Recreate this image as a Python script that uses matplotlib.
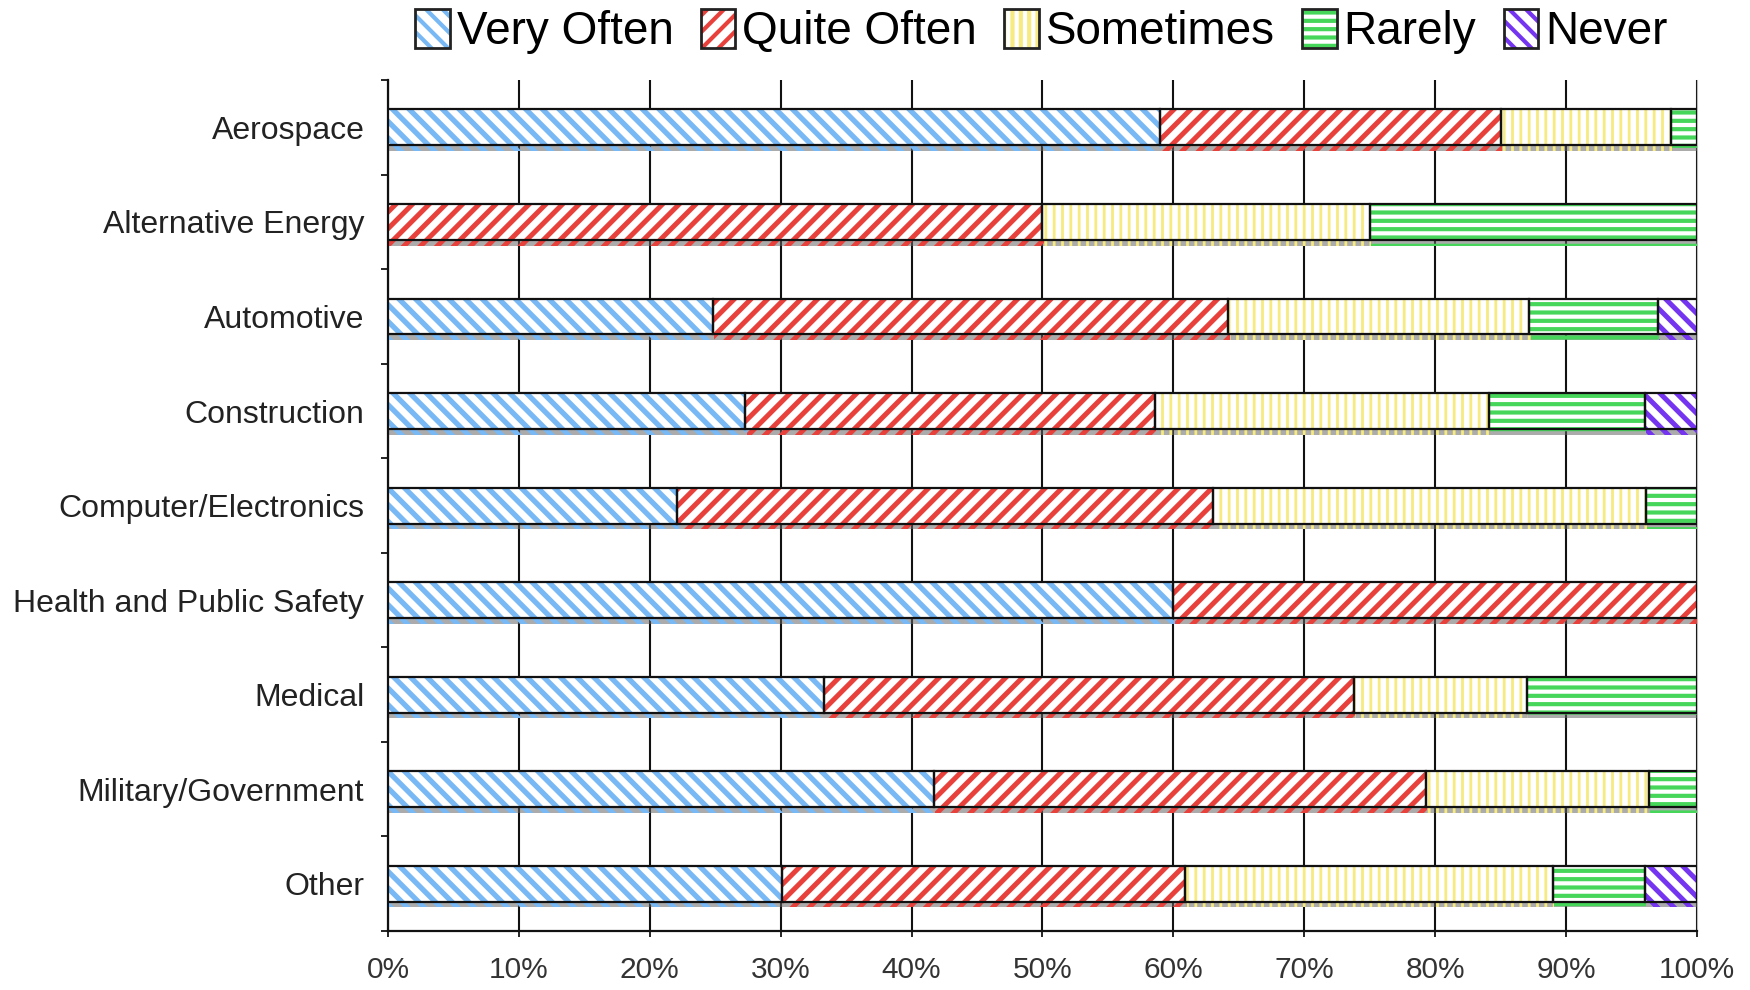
import numpy as np
import matplotlib
matplotlib.use('Agg')
import matplotlib.pyplot as plt
from matplotlib.patches import Patch
import matplotlib.patheffects as pe

# Data (percent of respondents per sector)
sectors = ['Aerospace', 'Alternative Energy', 'Automotive', 'Construction',
           'Computer/Electronics', 'Health and Public Safety', 'Medical',
           'Military/Government', 'Other']
responses = ['Very Often', 'Quite Often', 'Sometimes', 'Rarely', 'Never']
very_often = [59.0, 0.0, 24.8, 27.3, 22.1, 60.0, 33.3, 41.7, 30.1]
quite_often = [26.0, 50.0, 39.4, 31.3, 40.9, 40.0, 40.5, 37.6, 30.8]
sometimes = [13.0, 25.0, 23.0, 25.5, 33.1, 0.0, 13.2, 17.0, 28.1]
rarely = [2.0, 25.0, 9.8, 11.9, 3.9, 0.0, 13.0, 3.7, 7.0]
never = [0.0, 0.0, 3.0, 4.0, 0.0, 0.0, 0.0, 0.0, 4.0]

series = [very_often, quite_often, sometimes, rarely, never]
colors = ['#78b8f4', '#e8413c', '#f7ea80', '#45d65a', '#7434f0']
hatches = ['\\\\', '//', '||', '--', '\\\\']
hatch_lw = [3.8, 3.6, 2.0, 3.0, 3.6]

plt.rcParams['font.family'] = ['Liberation Sans', 'DejaVu Sans']
plt.rcParams['hatch.linewidth'] = 3.0

fig = plt.figure(figsize=(17.5, 9.9), dpi=100)
ax = fig.add_axes([0.2217, 0.0596, 0.7480, 0.8594])

y = np.arange(len(sectors))
bar_h = 0.38
left = np.zeros(len(sectors))
handles = []
for vals, col, hat, hlw, name in zip(series, colors, hatches, hatch_lw, responses):
    vals = np.array(vals)
    keep = vals > 0
    # hatched layer (hatch takes the edge colour)
    bars = ax.barh(y[keep], vals[keep], left=left[keep], height=bar_h, color='white',
                   edgecolor=col, hatch=hat, linewidth=0, zorder=3,
                   path_effects=[pe.SimplePatchShadow(offset=(1, -4), shadow_rgbFace='0.4', alpha=0.55),
                                 pe.Normal()])
    for b in bars:
        if hasattr(b, 'set_hatch_linewidth'):
            b.set_hatch_linewidth(hlw)
    # black outline
    ax.barh(y[keep], vals[keep], left=left[keep], height=bar_h, color='none',
            edgecolor='#111111', linewidth=1.6, zorder=4)
    left += vals
    hp = Patch(facecolor='white', edgecolor=col, hatch=hat, linewidth=0)
    if hasattr(hp, 'set_hatch_linewidth'):
        hp.set_hatch_linewidth(hlw)
    handles.append((hp, Patch(facecolor='none', edgecolor='#222222', linewidth=2.0)))

ax.set_xlim(0, 100)
ax.set_ylim(len(sectors) - 0.5, -0.5)
ax.set_xticks(np.arange(0, 101, 10))
ax.set_xticklabels(['%d%%' % v for v in range(0, 101, 10)], fontsize=21.5, color='#333333')
ax.set_yticks(y)
ax.set_yticklabels(sectors, fontsize=23, color='#222222')
ax.set_yticks(np.arange(len(sectors) + 1) - 0.5, minor=True)
ax.tick_params(axis='y', which='major', length=0, pad=17)
ax.tick_params(axis='y', which='minor', length=5, width=1.2, direction='out')
ax.tick_params(axis='x', length=4, width=1.2, pad=14)

ax.grid(axis='x', color='#111111', linewidth=1.5, zorder=0)
ax.set_axisbelow(True)
ax.spines['top'].set_visible(False)
ax.spines['right'].set_color('#bbbbbb')
ax.spines['left'].set_linewidth(1.6)
ax.spines['bottom'].set_linewidth(1.6)
ax.spines['left'].set_color('#111111')
ax.spines['bottom'].set_color('#111111')

fig.legend(handles, responses, loc='center', bbox_to_anchor=(0.595, 0.968),
           ncol=5, frameon=False, fontsize=33, handlelength=0.75, handleheight=0.95,
           handletextpad=0.15, columnspacing=0.6)

plt.savefig('out.png', dpi=100)
